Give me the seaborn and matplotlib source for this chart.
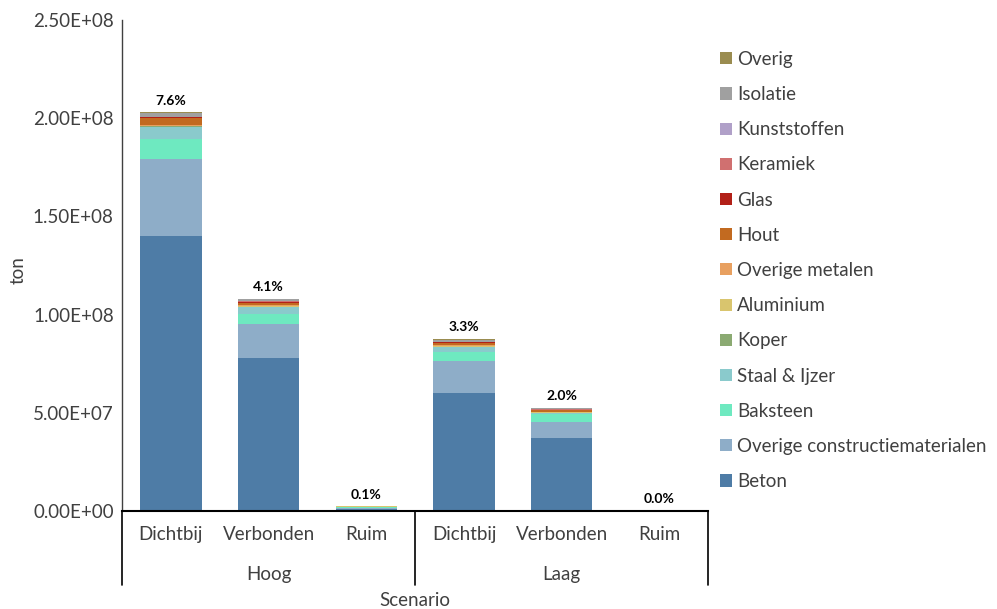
import numpy as np
import pandas as pd
import matplotlib
matplotlib.use("Agg")
import matplotlib.pyplot as plt
import seaborn as sns
from matplotlib.patches import Patch
from matplotlib.ticker import FuncFormatter

# Bars: scenario x density (values in Mton)
groups = ["Hoog", "Laag"]
subcats = ["Dichtbij", "Verbonden", "Ruim"]
bar_ids = ["Hoog-Dichtbij", "Hoog-Verbonden", "Hoog-Ruim",
           "Laag-Dichtbij", "Laag-Verbonden", "Laag-Ruim"]
pct_labels = ["7.6%", "4.1%", "0.1%", "3.3%", "2.0%", "0.0%"]

materials = ["Beton", "Overige constructiematerialen", "Baksteen", "Staal & Ijzer",
             "Koper", "Aluminium", "Overige metalen", "Hout", "Glas", "Keramiek",
             "Kunststoffen", "Isolatie", "Overig"]

beton = [140.0, 77.9, 1.2, 60.1, 37.2, 0.0]
overige_constr = [39.2, 17.3, 0.5, 16.3, 8.1, 0.0]
baksteen = [10.2, 4.9, 0.1, 4.7, 4.1, 0.0]
staal = [6.4, 3.9, 0.4, 2.5, 0.7, 0.0]
koper = [0.1, 0.05, 0.05, 0.05, 0.03, 0.0]
aluminium = [0.2, 0.3, 0.1, 0.3, 0.1, 0.0]
overige_metalen = [0.3, 0.6, 0.02, 0.5, 0.2, 0.0]
hout = [3.6, 1.2, 0.01, 1.0, 1.0, 0.0]
glas = [0.5, 0.4, 0.01, 0.4, 0.2, 0.0]
keramiek = [0.2, 0.3, 0.01, 0.3, 0.3, 0.0]
kunststoffen = [0.1, 0.1, 0.01, 0.1, 0.1, 0.0]
isolatie = [2.0, 0.8, 0.02, 1.0, 0.5, 0.0]
overig = [0.35, 0.25, 0.02, 0.5, 0.1, 0.0]

series = [beton, overige_constr, baksteen, staal, koper, aluminium, overige_metalen,
          hout, glas, keramiek, kunststoffen, isolatie, overig]
colors = ["#4E7CA6", "#8EADC8", "#6EE9C0", "#8ACACC", "#8BAA72", "#D9C56E", "#E8A060",
          "#C26A20", "#B22018", "#D07070", "#B0A0C8", "#A0A0A0", "#9A8C50"]

sns.set_style("white")
plt.rcParams["font.family"] = ["Lato", "DejaVu Sans"]

fig = plt.figure(figsize=(9.97, 6.09), dpi=100)
ax = fig.add_axes([0.1224, 0.161, 0.588, 0.806])

bottom = np.zeros(len(bar_ids))
for mat, vals, col in zip(materials, series, colors):
    vals = np.array(vals) * 1e6
    sns.barplot(x=bar_ids, y=vals, color=col, bottom=bottom, width=0.63,
                saturation=1, linewidth=0, ax=ax, order=bar_ids)
    bottom = bottom + vals

for i, lab in enumerate(pct_labels):
    ax.annotate(lab, (i, bottom[i]), xytext=(0, 4), textcoords="offset points",
                ha="center", va="bottom", fontsize=10, fontweight="bold", color="black")

ax.set_xlim(-0.5, 5.5)
ax.set_ylim(0, 2.5e8)
ax.set_yticks(np.arange(0, 2.51e8, 0.5e8))
ax.yaxis.set_major_formatter(FuncFormatter(lambda v, p: f"{v:.2E}"))
ax.tick_params(axis="y", length=0, labelsize=13.5, labelcolor="#404040", pad=6)
ax.set_xticks(range(len(bar_ids)))
ax.set_xticklabels(subcats * len(groups))
ax.tick_params(axis="x", length=0, labelsize=13.5, labelcolor="#404040", pad=11)
ax.set_xlabel("")
ax.set_ylabel("")

for s in ["top", "right"]:
    ax.spines[s].set_visible(False)
ax.spines["left"].set_color("#404040")
ax.spines["left"].set_linewidth(1.0)
ax.spines["bottom"].set_color("black")
ax.spines["bottom"].set_linewidth(1.5)

# multi-level category axis
for xa in [0.0, 0.5, 1.0]:
    ax.plot([xa, xa], [0, -0.151], transform=ax.transAxes, color="black",
            lw=1.2, clip_on=False)
for gi, g in enumerate(groups):
    ax.text(0.25 + 0.5 * gi, -0.130, g, transform=ax.transAxes, ha="center",
            va="center", fontsize=13.5, color="#404040")
ax.text(0.5, -0.183, "Scenario", transform=ax.transAxes, ha="center", va="center",
        fontsize=13.5, color="#404040")
fig.text(0.018, 1 - 270 / 609, "ton", rotation=90, ha="center", va="center",
         fontsize=13.5, color="#404040")

handles = [Patch(facecolor=c, edgecolor="none") for c in colors][::-1]
fig.legend(handles, materials[::-1], loc="upper left",
           bbox_to_anchor=(703 / 997, 1 - 34 / 609), frameon=False, fontsize=13.5,
           labelspacing=0.97, handlelength=0.62, handleheight=0.62, handletextpad=0.3,
           labelcolor="#404040")

fig.savefig("out.png", dpi=100)
